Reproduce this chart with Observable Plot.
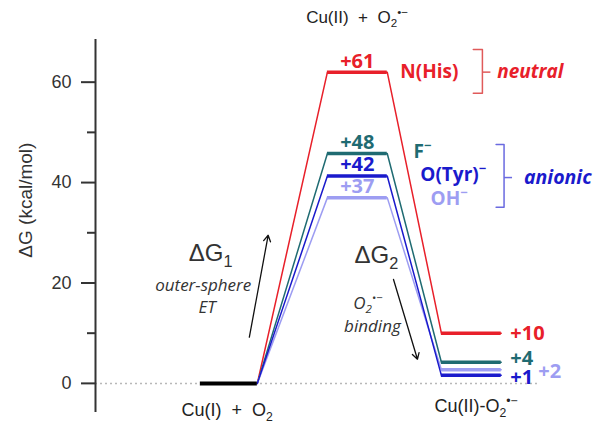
<!DOCTYPE html>
<html><head><meta charset="utf-8">
<script src="https://cdn.jsdelivr.net/npm/d3@7"></script>
<script src="https://cdn.jsdelivr.net/npm/@observablehq/plot@0.6"></script>
<style>body{margin:0;background:#fff} svg{display:block}</style>
</head><body><div id="chart"></div>
<script>
// ---- data ----
const species = ["N(His)", "F^{−}", "O(Tyr)^{−}", "OH^{−}"];
const colors = ["#e8202a", "#1f6b72", "#1a1acc", "#9d9df2"];
const tsEnergy = [62, 45.8, 41.3, 37];
const productEnergy = [10, 4.2, 1.6, 2.7];
const tsLabels = ["+61", "+48", "+42", "+37"];
const productLabels = ["+10", "+4", "+1", "+2"];
const reactantStage = [0, 1];
const tsStage = [2.23, 3.28];
const productStage = [4.23, 5.28];
const yTicks = [0, 20, 40, 60];
const yMinorTicks = [10, 30, 50];

const drawOrder = [0, 1, 3, 2];
const pathRows = drawOrder.flatMap(i => [
  {s: i, x: reactantStage[1], y: 0},
  {s: i, x: tsStage[0], y: tsEnergy[i]},
  {s: i, x: tsStage[1], y: tsEnergy[i]},
  {s: i, x: productStage[0], y: productEnergy[i]},
  {s: i, x: productStage[1], y: productEnergy[i]}
]);
const levelRows = drawOrder.flatMap(i => [
  {s: i, x1: tsStage[0], x2: tsStage[1], y: tsEnergy[i]},
  {s: i, x1: productStage[0], x2: productStage[1], y: productEnergy[i]}
]);
const idx = species.map((_, i) => i);

const SANS = "Liberation Sans, Arial, sans-serif";
const BOLD = "Open Sans, sans-serif";

const chart = Plot.plot({
  width: 601, height: 428,
  marginLeft: 95, marginRight: 0, marginTop: 39, marginBottom: 16,
  x: {domain: [-1.84, 7.04], axis: null},
  y: {domain: [-5.8, 68.5], axis: null},
  style: {fontFamily: SANS, fontSize: "15px", color: "#333", background: "white"},
  marks: [
    // zero dotted baseline
    Plot.ruleY([0], {x1: -1.84, x2: 5.93, stroke: "#b8b8b8", strokeWidth: 1.5, strokeDasharray: "2,3"}),
    // y axis
    Plot.ruleX([-1.84], {y1: -5.8, y2: 68.5, stroke: "#333", strokeWidth: 2}),
    Plot.axisY({ticks: yTicks, tickSize: 14, tickPadding: 10, fontSize: 18, stroke: "#333", strokeWidth: 2, label: null, fill: "#333"}),
    Plot.axisY({ticks: yMinorTicks, tickSize: 8, tickFormat: () => "", stroke: "#333", strokeWidth: 2, label: null}),
    Plot.text(["ΔG (kcal/mol)"], {x: -3.07, y: 36.5, rotate: -90, fontSize: 19, fill: "#333"}),
    // connecting lines
    Plot.line(pathRows, {x: "x", y: "y", z: "s", stroke: d => colors[d.s], strokeWidth: 1.5}),
    // energy levels
    Plot.ruleY(levelRows, {x1: "x1", x2: "x2", y: "y", stroke: d => colors[d.s], strokeWidth: 3.5}),
    Plot.ruleY([0], {x1: reactantStage[0], x2: reactantStage[1], stroke: "#000", strokeWidth: 4}),
    // TS value labels
    Plot.text(idx, {x: (tsStage[0] + tsStage[1]) / 2, y: i => tsEnergy[i], dy: -11, text: i => tsLabels[i], fill: i => colors[i], fontSize: 20, fontWeight: "bold", fontFamily: BOLD}),
    // product value labels
    Plot.text(idx, {x: [5.44, 5.44, 5.44, 5.93], y: [10, 5.0, 1.2, 2.4], text: i => productLabels[i], fill: i => colors[i], fontSize: 20, fontWeight: "bold", fontFamily: BOLD, textAnchor: "start"}),
    // species labels
    Plot.text(idx, {x: [3.51, 3.74, 3.86, 4.04], y: [62, 46.2, 41.6, 36.7], text: i => species[i], fill: i => colors[i], fontSize: 19, fontWeight: "bold", fontFamily: BOLD, textAnchor: "start"}),
    // brackets
    Plot.line([[4.79, 66.5], [4.95, 66.5], [4.95, 57.8], [4.79, 57.8]], {stroke: "#e05a5a", strokeWidth: 1.5}),
    Plot.link([0], {x1: 4.95, x2: 5.09, y1: 62, y2: 62, stroke: "#e05a5a", strokeWidth: 1.5}),
    Plot.line([[5.19, 47.6], [5.33, 47.6], [5.33, 35.1], [5.19, 35.1]], {stroke: "#6a6ae0", strokeWidth: 1.5}),
    Plot.link([0], {x1: 5.33, x2: 5.47, y1: 41, y2: 41, stroke: "#6a6ae0", strokeWidth: 1.5}),
    Plot.text(["neutral"], {x: 5.21, y: 62, textAnchor: "start", fill: "#e8202a", fontSize: 19, fontWeight: "bold", fontStyle: "italic", fontFamily: BOLD}),
    Plot.text(["anionic"], {x: 5.68, y: 41, textAnchor: "start", fill: "#1a1acc", fontSize: 19.5, fontWeight: "bold", fontStyle: "italic", fontFamily: BOLD}),
    // state labels
    Plot.text(["Cu(II)\u00a0 +\u00a0 O_{2}^{•−}"], {x: 2.75, y: 72.9, fontSize: 17, fill: "#222"}),
    Plot.text(["Cu(I)\u00a0 +\u00a0 O_{2}"], {x: 0.47, y: -5.4, fontSize: 18, fill: "#222"}),
    Plot.text(["Cu(II)-O_{2}^{•−}"], {x: 4.84, y: -4.6, fontSize: 18, fill: "#222"}),
    // ΔG1 annotation
    Plot.text(["ΔG_{1}"], {x: 0.18, y: 25.9, fontSize: 24, fill: "#333"}),
    Plot.text(["outer-sphere"], {x: 0.05, y: 19.5, fontSize: 17, fontStyle: "italic", fontFamily: BOLD, fill: "#333"}),
    Plot.text(["ET"], {x: 0.12, y: 15.1, fontSize: 17, fontStyle: "italic", fontFamily: BOLD, fill: "#333"}),
    Plot.arrow([0], {x1: 0.86, y1: 9.2, x2: 1.19, y2: 29.5, stroke: "#111", strokeWidth: 1.3, headLength: 8}),
    // ΔG2 annotation
    Plot.text(["ΔG_{2}"], {x: 3.09, y: 25.6, fontSize: 24, fill: "#333"}),
    Plot.text(["O_{2}^{•−}"], {x: 2.94, y: 16.0, fontSize: 17, fontStyle: "italic", fontFamily: BOLD, fill: "#333"}),
    Plot.text(["binding"], {x: 3.02, y: 11.4, fontSize: 17, fontStyle: "italic", fontFamily: BOLD, fill: "#333"}),
    Plot.arrow([0], {x1: 3.39, y1: 20.7, x2: 3.81, y2: 4.8, stroke: "#111", strokeWidth: 1.3, headLength: 8})
  ]
});
document.getElementById("chart").appendChild(chart);

// rich text: _{sub} and ^{sup}
chart.querySelectorAll("text").forEach(t => {
  const s = t.textContent;
  if (!/[_^]\{/.test(s)) return;
  const fs = parseFloat(getComputedStyle(t).fontSize) || 15;
  t.textContent = "";
  const re = /([_^])\{([^}]*)\}|([^_^]+)/g;
  let m;
  while ((m = re.exec(s))) {
    const ts = document.createElementNS("http://www.w3.org/2000/svg", "tspan");
    if (m[3] !== undefined) {
      ts.textContent = m[3];
    } else {
      ts.textContent = m[2];
      ts.setAttribute("font-size", (fs * 0.68).toFixed(1));
      ts.setAttribute("baseline-shift", m[1] === "_" ? (-fs * 0.26).toFixed(1) : (fs * 0.4).toFixed(1));
    }
    t.appendChild(ts);
  }
});
</script></body></html>
